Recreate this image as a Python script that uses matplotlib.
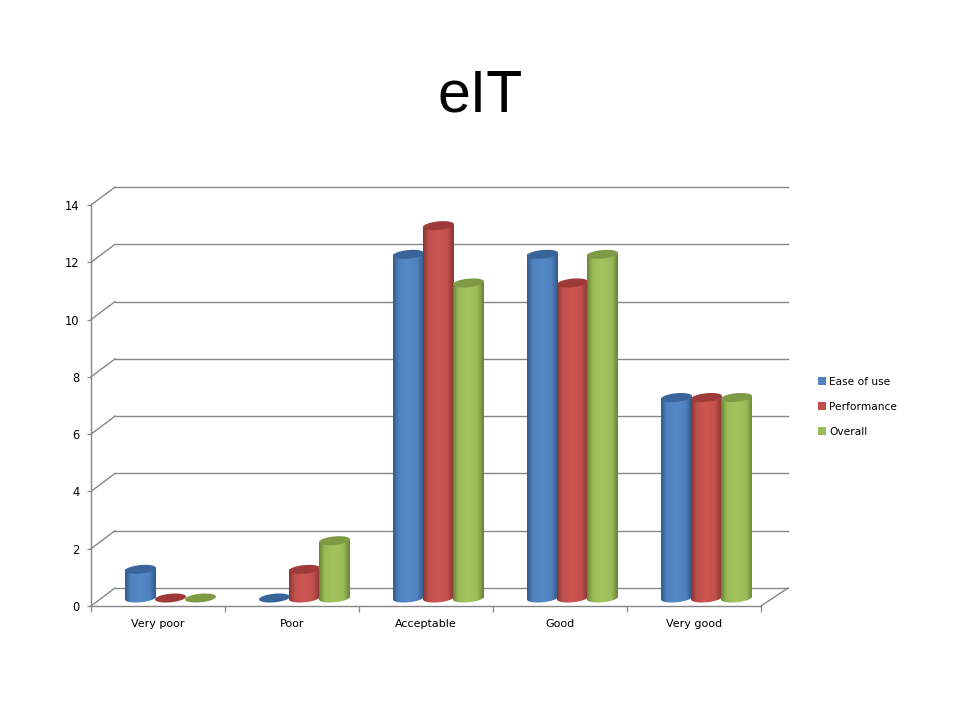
import numpy as np
import matplotlib
matplotlib.use("Agg")
import matplotlib.pyplot as plt
from matplotlib.colors import LinearSegmentedColormap
from matplotlib.patches import Polygon, PathPatch, Rectangle
from matplotlib.path import Path

categories = ["Very poor", "Poor", "Acceptable", "Good", "Very good"]
ease_of_use = [1, 0, 12, 12, 7]
performance = [0, 1, 13, 11, 7]
overall = [0, 2, 11, 12, 7]
series_names = ["Ease of use", "Performance", "Overall"]
y_ticks = [0, 2, 4, 6, 8, 10, 12, 14]

series = [ease_of_use, performance, overall]
main = ["#4F81BD", "#C0504D", "#9BBB59"]
edge = ["#33598A", "#873533", "#6A8533"]
light = ["#5389C8", "#CE5652", "#A3C45E"]
top = ["#3A659A", "#9E3B38", "#7E9A44"]

W, H = 960, 720
L, R, T, B = 91, 788, 186, 606      # axes box in pixels
px_x = 134.0                        # pixels per category
px_y = 28.64                        # pixels per unit
fig = plt.figure(figsize=(9.6, 7.2), dpi=100, facecolor="white")
ax = fig.add_axes([L / W, 1 - B / H, (R - L) / W, (B - T) / H])
xmin, xmax = -0.5, -0.5 + (R - L) / px_x
ymin, ymax = 0, (B - T) / px_y
ax.set_facecolor("none")
for s in ax.spines.values():
    s.set_visible(False)

# 3D frame
GRID = "#868686"
LW = 1.0
dx_l, dy = 24 / px_x, 18 / px_y
x_back_l = -0.5 + dx_l
x_front_r = 4.5
for v in y_ticks:
    ax.plot([-0.5, x_back_l], [v, v + dy], color=GRID, lw=LW, zorder=1, clip_on=False)
    ax.plot([x_back_l, xmax], [v + dy, v + dy], color=GRID, lw=LW, zorder=1, clip_on=False)
ax.plot([x_front_r, xmax], [0, dy], color=GRID, lw=LW, zorder=1, clip_on=False)
ax.plot([-0.5, -0.5], [0, 14], color=GRID, lw=LW, zorder=1, clip_on=False)
ax.plot([-0.5, x_front_r], [0, 0], color=GRID, lw=LW, zorder=1, clip_on=False)

# cylinders
offset_group = 12.5 / px_x
step = 30 / px_x
width = 31 / px_x
base = 8 / px_y
ry = 4.3 / px_y
tilt = 1.4 / px_y


def ellipse(cx, cy, half=None):
    t = np.linspace(0, 2 * np.pi, 80) if half is None else np.linspace(np.pi, 2 * np.pi, 40)
    return np.column_stack([cx + width / 2 * np.cos(t),
                            cy + ry * np.sin(t) + tilt * np.cos(t)])


z = 3
for j, vals in enumerate(series):
    cmap = LinearSegmentedColormap.from_list(
        "c", [(0, edge[j]), (0.18, main[j]), (0.5, light[j]), (0.8, main[j]), (1, edge[j])])
    grad = np.linspace(0, 1, 64).reshape(1, -1)
    for i, v in enumerate(vals):
        cx = i + offset_group + (j - 1) * step
        if v > 0:
            ax.bar(cx, v, width=width, bottom=base, color=main[j], lw=0, zorder=z)
            bottom_half = ellipse(cx, base, half=True)
            outline = np.vstack([[[cx - width / 2, base + v - tilt]],
                                 bottom_half,
                                 [[cx + width / 2, base + v + tilt]]])
            clip = PathPatch(Path(np.vstack([outline, outline[:1]])), transform=ax.transData,
                             fc="none", ec="none")
            ax.add_patch(clip)
            im = ax.imshow(grad, cmap=cmap, extent=[cx - width / 2, cx + width / 2,
                                                    base - 2 * ry, base + v + 2 * ry],
                           aspect="auto", zorder=z + 0.1, interpolation="bilinear")
            im.set_clip_path(clip)
        ax.add_patch(Polygon(ellipse(cx, base + v), closed=True, fc=top[j],
                             ec="none", zorder=z + 0.2))
        z += 1

ax.set_xlim(xmin, xmax)
ax.set_ylim(ymin, ymax)

# ticks and labels
ax.set_yticks(y_ticks)
ax.set_yticklabels([str(v) for v in y_ticks])
ax.set_xticks(np.arange(-0.5, 5, 1))
ax.set_xticklabels([])
ax.tick_params(axis="y", length=3, width=0.9, color=GRID, pad=5.5,
               labelsize=8.3, labelcolor="black")
ax.tick_params(axis="x", length=4, width=0.9, color=GRID)
for i, c in enumerate(categories):
    ax.annotate(c, xy=(i, 0), xycoords="data", xytext=(0, -13),
                textcoords="offset points", ha="center", va="center",
                fontsize=8.0, color="black")

handles = [Rectangle((0, 0), 1, 1, fc=c, ec="none") for c in main]
fig.legend(handles, series_names, loc="upper left", bbox_to_anchor=(816 / W, 1 - 375 / H),
           frameon=False, fontsize=7.7, handlelength=0.75, handleheight=0.75,
           handletextpad=0.3, labelspacing=1.4, borderpad=0.2, borderaxespad=0)

fig.text(480 / W, 1 - 112 / H, "eIT", ha="center", va="baseline", fontsize=42.5,
         family="Liberation Sans", color="black")

fig.savefig("out.png", dpi=100, facecolor="white")
